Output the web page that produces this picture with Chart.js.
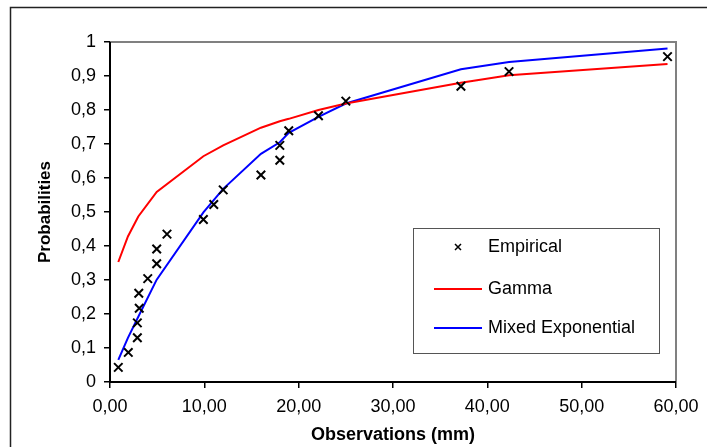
<!DOCTYPE html>
<html>
<head>
<meta charset="utf-8">
<script src="https://cdn.jsdelivr.net/npm/chart.js@4.4.1/dist/chart.umd.min.js"></script>
<style>
    html, body { margin: 0; padding: 0; background: #fff; }
    #wrap { width: 707px; height: 447px; position: relative; }
</style>
</head>
<body>
<div id="wrap"><canvas id="probChart" width="707" height="447"></canvas></div>
<script>
// empirical points (observations, plotting position)
const A_empX = [0.88, 1.94, 2.9, 2.9, 3.1, 3.05, 4.0, 4.95, 4.95, 6.04, 9.9, 11.0, 12.0, 16.0, 18.0, 18.0, 18.95, 22.1, 25.0, 37.2, 42.3, 59.1];
const A_empY = [0.043, 0.087, 0.130, 0.174, 0.217, 0.261, 0.304, 0.348, 0.391, 0.435, 0.478, 0.522, 0.565, 0.609, 0.652, 0.696, 0.739, 0.783, 0.826, 0.870, 0.913, 0.957];

// fitted curves
const A_fitX = [0.88, 1.9, 3.0, 4.95, 9.9, 12.0, 16.0, 18.0, 18.95, 22.1, 25.0, 37.2, 42.3, 59.1];
const A_gamma = [0.353, 0.428, 0.487, 0.559, 0.664, 0.696, 0.748, 0.767, 0.774, 0.800, 0.819, 0.880, 0.902, 0.935];
const A_mixExp = [0.065, 0.13, 0.192, 0.301, 0.499, 0.568, 0.671, 0.705, 0.733, 0.780, 0.819, 0.920, 0.941, 0.981];

const A_xTicks = ["0,00", "10,00", "20,00", "30,00", "40,00", "50,00", "60,00"];
const A_yTicks = ["0", "0,1", "0,2", "0,3", "0,4", "0,5", "0,6", "0,7", "0,8", "0,9", "1"];

const A_legend = ["Empirical", "Gamma", "Mixed Exponential"];

function toPoints(xs, ys)
{
    return xs.map((x, i) => ({ x: x, y: ys[i] }));
}

const fontFam = "'Liberation Sans', Arial, sans-serif";

// outer frame + plot box + legend
const framePlugin = {
    id: "frame",
    beforeDraw(chart) {
        const c = chart.ctx;
        c.save();
        c.strokeStyle = "#222";
        c.lineWidth = 1.5;
        c.strokeRect(10.5, 7.5, 720, 460);
        c.restore();
    },
    afterDraw(chart) {
        const c = chart.ctx;
        const a = chart.chartArea;
        c.save();
        // grey plot border top/right
        c.strokeStyle = "#808080";
        c.lineWidth = 2;
        c.beginPath();
        c.moveTo(a.left, a.top);
        c.lineTo(a.right, a.top);
        c.lineTo(a.right, a.bottom);
        c.stroke();
        // black axes
        c.strokeStyle = "#000";
        c.lineWidth = 2;
        c.beginPath();
        c.moveTo(a.left, a.top);
        c.lineTo(a.left, a.bottom);
        c.lineTo(a.right, a.bottom);
        c.stroke();

        // legend box
        const lx = 413, ly = 228, lw = 246, lh = 125;
        c.fillStyle = "#fff";
        c.fillRect(lx, ly, lw, lh);
        c.strokeStyle = "#555";
        c.lineWidth = 1;
        c.strokeRect(lx + 0.5, ly + 0.5, lw, lh);

        const rows = [247, 289, 328];
        c.font = "18px " + fontFam;
        c.fillStyle = "#000";
        c.textBaseline = "middle";
        c.textAlign = "left";
        A_legend.forEach((txt, i) => {
            c.fillText(txt, 488, rows[i]);
        });
        // empirical marker
        c.strokeStyle = "#000";
        c.lineWidth = 1.5;
        c.beginPath();
        c.moveTo(455, rows[0] - 3);
        c.lineTo(461, rows[0] + 3);
        c.moveTo(461, rows[0] - 3);
        c.lineTo(455, rows[0] + 3);
        c.stroke();
        // lines
        c.lineWidth = 2;
        c.strokeStyle = "#ff0000";
        c.beginPath();
        c.moveTo(434, rows[1]);
        c.lineTo(482, rows[1]);
        c.stroke();
        c.strokeStyle = "#0000ff";
        c.beginPath();
        c.moveTo(434, rows[2]);
        c.lineTo(482, rows[2]);
        c.stroke();
        c.restore();
    }
};

const ctx = document.getElementById("probChart").getContext("2d");
const probChart = new Chart(ctx, {
    type: "scatter",
    data: {
        datasets: [
            {
                label: A_legend[0],
                data: toPoints(A_empX, A_empY),
                showLine: false,
                pointStyle: "crossRot",
                pointRadius: 6,
                borderColor: "#000",
                borderWidth: 2,
                order: 0
            },
            {
                label: A_legend[1],
                data: toPoints(A_fitX, A_gamma),
                showLine: true,
                borderColor: "#ff0000",
                borderWidth: 2,
                pointRadius: 0,
                tension: 0,
                order: 1
            },
            {
                label: A_legend[2],
                data: toPoints(A_fitX, A_mixExp),
                showLine: true,
                borderColor: "#0000ff",
                borderWidth: 2,
                pointRadius: 0,
                tension: 0,
                order: 2
            }
        ]
    },
    options: {
        responsive: false,
        animation: false,
        devicePixelRatio: 1,
        layout: { padding: { left: 10, top: 42, right: 31, bottom: 0 } },
        plugins: {
            legend: { display: false },
            tooltip: { enabled: false }
        },
        scales: {
            x: {
                type: "linear",
                min: 0,
                max: 60,
                afterFit(scale) { scale.height = 65; },
                afterBuildTicks(scale) {
                    scale.ticks = A_xTicks.map((t, i) => ({ value: i * 10 }));
                },
                ticks: {
                    color: "#000",
                    font: { family: fontFam, size: 18 },
                    padding: 8,
                    maxRotation: 0,
                    callback: (v, i) => A_xTicks[i]
                },
                grid: {
                    drawOnChartArea: false,
                    drawTicks: true,
                    tickLength: 6,
                    color: "#000",
                    lineWidth: 1.5
                },
                border: { color: "#000", width: 2 },
                title: {
                    display: true,
                    text: "Observations (mm)",
                    color: "#000",
                    font: { family: fontFam, size: 18, weight: "bold" },
                    padding: { top: 0, bottom: 1 }
                }
            },
            y: {
                min: 0,
                max: 1,
                afterFit(scale) { scale.width = 100; },
                afterBuildTicks(scale) {
                    scale.ticks = A_yTicks.map((t, i) => ({ value: i / 10 }));
                },
                ticks: {
                    color: "#000",
                    font: { family: fontFam, size: 18 },
                    padding: 8,
                    callback: (v, i) => A_yTicks[i]
                },
                grid: {
                    drawOnChartArea: false,
                    drawTicks: true,
                    tickLength: 6,
                    color: "#000",
                    lineWidth: 1.5
                },
                border: { color: "#000", width: 2 },
                title: {
                    display: true,
                    text: "Probabilities",
                    color: "#000",
                    font: { family: fontFam, size: 17, weight: "bold" },
                    padding: { top: 25, bottom: 0 }
                }
            }
        }
    },
    plugins: [framePlugin]
});
</script>
</body>
</html>
